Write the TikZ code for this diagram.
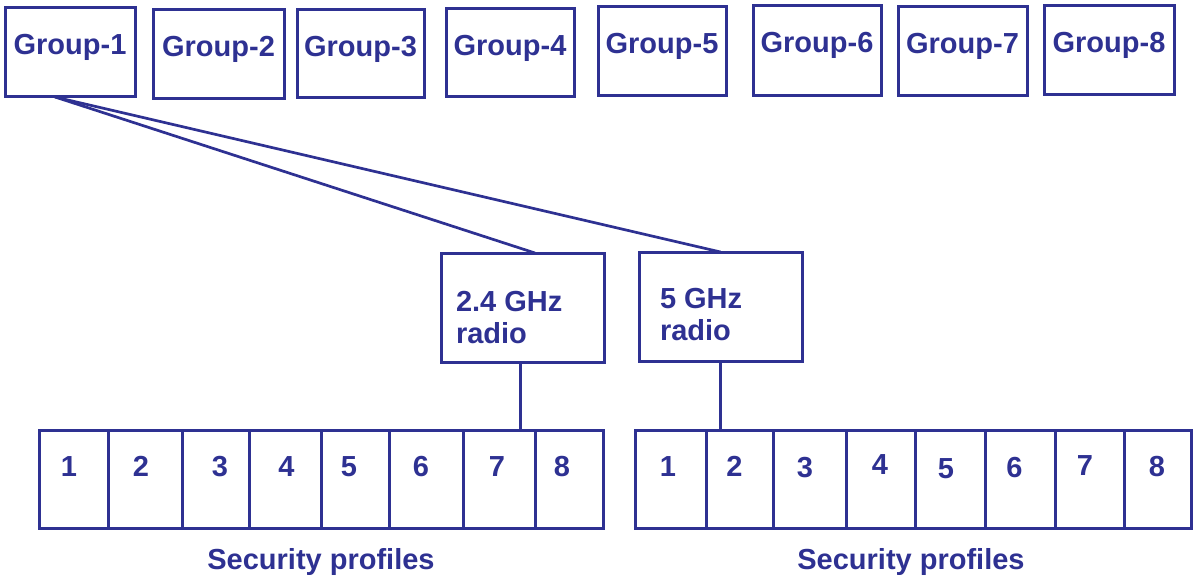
\documentclass[tikz,border=0pt]{standalone}
\usepackage{fontspec}
\setmainfont{Liberation Sans}
\definecolor{navy}{RGB}{46,49,146}
\begin{document}
\begin{tikzpicture}[x=1pt,y=-1pt,
  every node/.style={inner sep=0pt,outer sep=0pt},
  box/.style={draw=navy,line width=3pt,rectangle},
  lbl/.style={text=navy,font=\fontsize{29}{31.5}\selectfont\bfseries},
  wire/.style={draw=navy,line width=2.7pt}]
\useasboundingbox (0,0) rectangle (1193,580);
% group boxes
\foreach \i/\xa/\xb/\ya/\yb in {1/5/135/8/97,2/153/284/10/99,3/297/424/10/98,4/446/574/9/97,5/598/726/7/96,6/753/881/6/96,7/898/1027/7/96,8/1044/1174/6/95}{
  \node[box,minimum width={\xb-\xa},minimum height={\yb-\ya}] (g\i) at ({(\xa+\xb)/2},{(\ya+\yb)/2}) {};
  \node[lbl,anchor=base] (gt\i) at ([yshift=-47pt]g\i.north) {Group-\i};
}
% radio boxes
\node[box,minimum width=163,minimum height=109] (rad24) at (522.5,307.5) {};
\node[box,minimum width=163,minimum height=109] (rad5) at (720.5,306.5) {};
\node[lbl,anchor=base west,align=left] (rad24t) at (456,343) {2.4 GHz\\radio};
\node[lbl,anchor=base west,align=left] (rad5t) at (660,340) {5 GHz\\radio};
% group-1 to radios
\coordinate (gs) at ([xshift=-15pt]g1.south);
\draw[wire] (gs) -- ([xshift=12.5pt]rad24.north);
\draw[wire] (gs) -- (rad5.north);
% profile cells
\foreach \i/\xa/\xb/\tx in {1/39/108/69,2/108/182/141,3/182/249/220,4/249/321/286.5,5/321/389/349,6/389/463/421,7/463/535/497,8/535/603/562}{
  \node[box,minimum width={\xb-\xa},minimum height=98] (l\i) at ({(\xa+\xb)/2},479) {};
  \node[lbl,anchor=base] (lt\i) at (\tx,476) {\i};
}
\foreach \i/\xa/\xb/\tx/\ty in {1/635/706/668/476,2/706/773/734.5/476,3/773/846/805/477,4/846/915/880/474,5/915/985/946/478,6/985/1055/1014.5/477,7/1055/1124/1085/475,8/1124/1191/1157/476}{
  \node[box,minimum width={\xb-\xa},minimum height=98] (p\i) at ({(\xa+\xb)/2},479) {};
  \node[lbl,anchor=base] (pt\i) at (\tx,\ty) {\i};
}
\node[lbl,anchor=base] (spl) at (321,569) {Security profiles};
\node[lbl,anchor=base] (spr) at (911,569) {Security profiles};
% radios to profiles
\draw[wire] ([xshift=-2pt]rad24.south) -- ([xshift=-2pt]rad24.south |- l7.north);
\draw[wire] (rad5.south) -- (rad5.south |- p2.north);
\end{tikzpicture}
\end{document}
